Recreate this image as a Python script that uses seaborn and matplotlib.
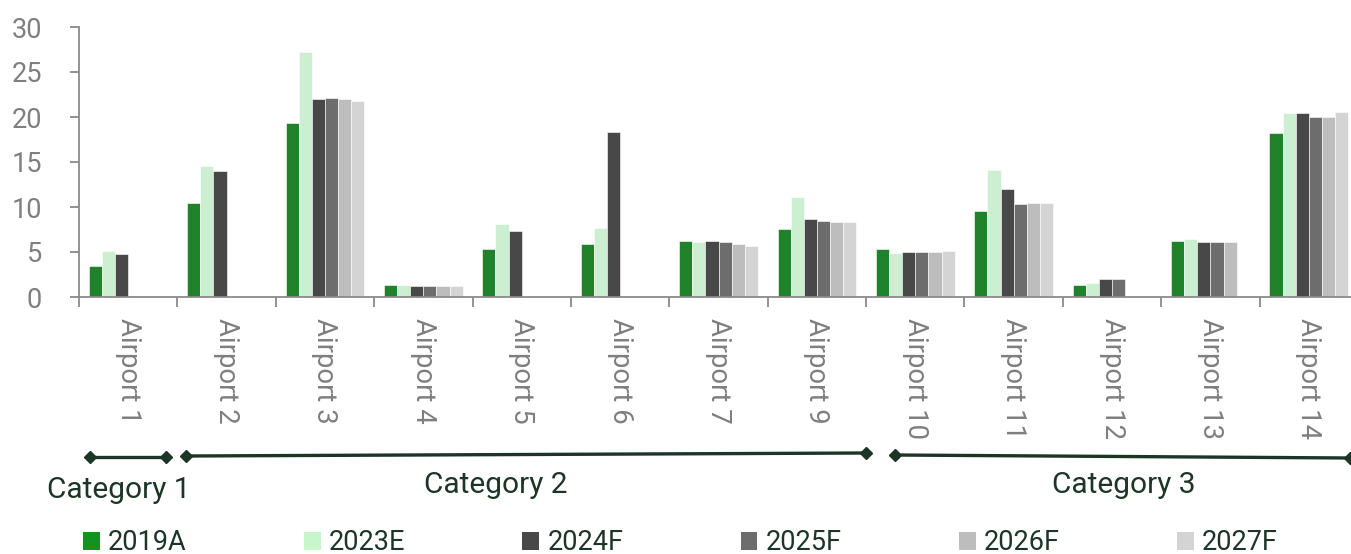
import numpy as np
import pandas as pd
import matplotlib
matplotlib.use("Agg")
import matplotlib.pyplot as plt
import matplotlib.transforms as mtransforms
from matplotlib.patches import Patch
import seaborn as sns

# ---------------- data ----------------
airports = ["Airport 1", "Airport 2", "Airport 3", "Airport 4", "Airport 5", "Airport 6",
            "Airport 7", "Airport 9", "Airport 10", "Airport 11", "Airport 12", "Airport 13",
            "Airport 14"]
years = ["2019A", "2023E", "2024F", "2025F", "2026F", "2027F"]
nan = np.nan
v2019A = [3.5, 10.4, 19.3, 1.3, 5.3, 5.9, 6.2, 7.6, 5.3, 9.6, 1.3, 6.2, 18.2]
v2023E = [5.1, 14.6, 27.2, 1.3, 8.1, 7.7, 6.1, 11.1, 4.9, 14.1, 1.55, 6.4, 20.4]
v2024F = [4.8, 14.0, 22.0, 1.2, 7.3, 18.3, 6.2, 8.7, 5.0, 12.0, 2.0, 6.1, 20.4]
v2025F = [nan, nan, 22.1, 1.2, nan, nan, 6.1, 8.5, 5.0, 10.3, 2.0, 6.1, 20.0]
v2026F = [nan, nan, 22.0, 1.2, nan, nan, 5.9, 8.3, 5.0, 10.4, nan, 6.1, 20.0]
v2027F = [nan, nan, 21.8, 1.2, nan, nan, 5.7, 8.3, 5.1, 10.4, nan, nan, 20.6]
categories = ["Category 1", "Category 2", "Category 3"]

colors = ["#10931f", "#c7f5cc", "#484848", "#6d6d6d", "#bdbdbd", "#d4d4d4"]

series = [v2019A, v2023E, v2024F, v2025F, v2026F, v2027F]
rows = []
for yr, vals in zip(years, series):
    for ap, v in zip(airports, vals):
        if not np.isnan(v):
            rows.append({"Airport": ap, "Year": yr, "Value": v})
df = pd.DataFrame(rows)

# ---------------- figure ----------------
sns.set_style("white")
plt.rcParams["font.family"] = ["Roboto", "DejaVu Sans"]

W, H = 1351, 554
fig = plt.figure(figsize=(W / 100, H / 100), dpi=100)
ax = fig.add_axes([79 / W, (H - 297) / H, 1279 / W, 270 / H])

sns.barplot(data=df, x="Airport", y="Value", hue="Year", order=airports, hue_order=years,
            palette=colors, width=0.8, gap=0, edgecolor="white", linewidth=0.4,
            legend=False, ax=ax)

grey = "#8a8a8a"
txt_grey = "#7f7f7f"
dark = "#1c3526"

ax.set_xlim(-0.5, len(airports) - 0.5)
ax.set_ylim(0, 30)
ax.set_yticks(np.arange(0, 31, 5))
ax.set_xlabel("")
ax.set_ylabel("")
for s in ["top", "right"]:
    ax.spines[s].set_visible(False)
for s in ["left", "bottom"]:
    ax.spines[s].set_color(grey)
    ax.spines[s].set_linewidth(1.3)

ax.set_xticks(np.arange(-0.5, len(airports), 1.0))
ax.set_xticklabels([])
ax.set_xticks(np.arange(len(airports)), minor=True)
ax.set_xticklabels(airports, minor=True, rotation=-90, ha="center", va="top",
                   fontsize=19.8, color=txt_grey)
ax.tick_params(axis="x", which="major", direction="out", length=7.5, width=1.3,
               color=grey, bottom=True)
ax.tick_params(axis="x", which="minor", length=0, pad=15, bottom=True)
ax.tick_params(axis="y", direction="out", length=6.5, width=1.3, color=grey,
               left=True, pad=20, labelsize=19.5, labelcolor=txt_grey)

# ---------------- category brackets ----------------
trans = mtransforms.blended_transform_factory(ax.transData, fig.transFigure)
bracket_x = [(-0.39, 0.38), (0.59, 7.5), (7.79, 12.42)]
bracket_y = [((H - 457) / H, (H - 457) / H), ((H - 456) / H, (H - 453) / H),
             ((H - 455) / H, (H - 458) / H)]
label_x = [-0.1, 3.74, 10.12]
label_y = [(H - 490) / H, (H - 485) / H, (H - 485) / H]
for cat, (x0, x1), (y0, y1), lx, ly in zip(categories, bracket_x, bracket_y, label_x, label_y):
    ax.plot([x0, x1], [y0, y1], transform=trans, color=dark, lw=2.4, marker="D",
            markersize=6.5, clip_on=False, solid_capstyle="butt")
    ax.text(lx, ly, cat, transform=trans, ha="center", va="center", fontsize=21.5,
            color=dark)

# ---------------- legend ----------------
handles = [Patch(facecolor=c, edgecolor="none") for c in colors]
fig.legend(handles, years, loc="center left", bbox_to_anchor=(83 / W, (H - 543) / H),
           ncol=6, frameon=False, fontsize=19.5, labelcolor=dark,
           handlelength=0.62, handleheight=0.62, handletextpad=0.3,
           columnspacing=4.33, borderpad=0, borderaxespad=0)

fig.savefig("out.png", dpi=100)
